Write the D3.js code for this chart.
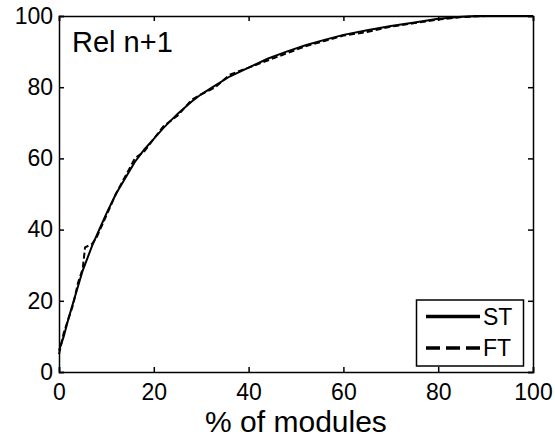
<!DOCTYPE html>
<html><head><meta charset="utf-8">
<script src="https://cdn.jsdelivr.net/npm/d3@7"></script>
<style>body{margin:0;background:#fff}svg{display:block}text{font-family:"Liberation Sans",Arial,sans-serif;fill:#000}</style>
</head><body>
<script>
const stX = [0,1,2,3,4,5,6,7,8,9,10,12,14,16,18,20,22,25,28,30,33,36,40,44,48,52,56,60,65,70,75,80,85,88,90,95,100];
const stY = [6,10,15,19.5,24,28.5,32,35.5,38.5,41.5,44.5,50,54.5,59,62.5,65.5,68.5,72.5,76,78,80.5,83,85.5,88,90,91.8,93.3,94.7,96,97.2,98.2,99.2,99.8,100,100,100,100];
const ftX = [0,1,2,3,4,5,5.5,7,8,9,10,12,14,16,18,20,22,25,28,30,33,36,40,44,48,52,56,60,65,70,75,80,85,90,100];
const ftY = [5,11,15,19,25,29,35,36,38,41,44,50,55,60,62,65.5,69,72,76.5,78,80,83.5,85.5,87.5,89.5,91.5,93,94.5,95.5,97,98,99,99.7,100,100];
const xTicks = [0,20,40,60,80,100];
const yTicks = [0,20,40,60,80,100];
const seriesNames = ["ST","FT"];

const W=555,H=439;
const m={l:59,r:22,t:16,b:67};
const svg=d3.select("body").append("svg").attr("width",W).attr("height",H);
const x=d3.scaleLinear().domain([0,100]).range([m.l,W-m.r]);
const y=d3.scaleLinear().domain([0,100]).range([H-m.b,m.t]);

const line=d3.line().x(d=>x(d[0])).y(d=>y(d[1]));
const st=stX.map((v,i)=>[v,stY[i]]);
const ft=ftX.map((v,i)=>[v,ftY[i]]);
svg.append("path").attr("d",line(ft)).attr("fill","none").attr("stroke","#000").attr("stroke-width",2).attr("stroke-dasharray","6,3");
svg.append("path").attr("d",line(st)).attr("fill","none").attr("stroke","#000").attr("stroke-width",2);

// axes
const gB=svg.append("g").attr("transform",`translate(0,${y(0)})`).call(d3.axisBottom(x).tickValues(xTicks).tickSize(-5).tickPadding(12));
const gT=svg.append("g").attr("transform",`translate(0,${y(100)})`).call(d3.axisTop(x).tickValues(xTicks).tickSize(-5).tickFormat(""));
const gL=svg.append("g").attr("transform",`translate(${x(0)},0)`).call(d3.axisLeft(y).tickValues(yTicks).tickSize(-5).tickPadding(6));
const gR=svg.append("g").attr("transform",`translate(${x(100)},0)`).call(d3.axisRight(y).tickValues(yTicks).tickSize(-5).tickFormat(""));
[gB,gT,gL,gR].forEach(g=>{g.select(".domain").attr("stroke","#000").attr("stroke-width",1.5);g.selectAll(".tick line").attr("stroke","#000").attr("stroke-width",1.5);g.selectAll("text").style("font-size","23px").attr("fill","#000");});

svg.append("text").attr("x",(x(0)+x(100))/2).attr("y",432).attr("text-anchor","middle").style("font-size","30px").text("% of modules");
svg.append("text").attr("x",72).attr("y",52).style("font-size","29px").text("Rel n+1");

// legend
const lg=svg.append("g");
lg.append("rect").attr("x",416.5).attr("y",300).attr("width",107).attr("height",66).attr("fill","#fff").attr("stroke","#000").attr("stroke-width",1.5);
const ly=[316.5,348];
seriesNames.forEach((n,i)=>{
  lg.append("line").attr("x1",426).attr("x2",480).attr("y1",ly[i]).attr("y2",ly[i]).attr("stroke","#000").attr("stroke-width",3.5).attr("stroke-dasharray",i?"14,6":null);
  lg.append("text").attr("x",483).attr("y",ly[i]+8).style("font-size","23px").text(n);
});
</script>
</body></html>
